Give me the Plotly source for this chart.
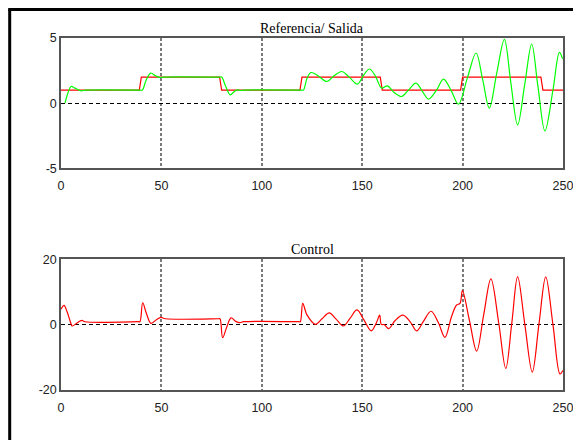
import plotly.graph_objects as go

# ---- data ----
# Reference (step) signal
t_ref = [0, 39, 40, 79, 80, 119, 120, 159, 160, 199, 200, 239, 240, 250]
r_ref = [1, 1, 2, 2, 1, 1, 2, 2, 1, 1, 2, 2, 1, 1]

# Output signal (key points)
t_out = [2, 3.5, 5, 7, 9, 10.3, 12, 39.5, 40.5, 42.5, 44.7, 47, 49.3, 51, 79, 80,
         82, 84.3, 86, 87.5, 89.5, 91, 119.7, 120.7, 122.5, 124.5, 128, 132.3, 136,
         139.8, 143.5, 147.6, 150.5, 153.6, 156.5, 159.7, 162.5, 166, 169.6, 173,
         176.8, 180, 183, 187, 190.5, 194.5, 197.9, 202.5, 206.7, 210, 213.3, 217,
         220.8, 224, 227.4, 231, 234.4, 237.5, 241, 245, 248.2, 249.8]
y_out = [0, 0.8, 1.28, 1.15, 1.0, 0.95, 1.0, 1.0, 1.0, 1.8, 2.31, 2.1, 1.97, 2.0, 2.0, 2.0,
         1.3, 0.64, 0.85, 1.02, 0.97, 1.0, 1.0, 1.0, 1.9, 2.35, 2.1, 1.66, 2.1,
         2.43, 2.0, 1.46, 2.1, 2.62, 2.1, 1.15, 1.33, 0.8, 0.51, 1.0,
         1.54, 0.9, 0.31, 1.0, 1.85, 0.9, -0.08, 2.0, 3.85, 1.8, -0.38, 2.3,
         4.9, 1.6, -1.67, 1.5, 4.54, 1.3, -2.13, 1.0, 3.9, 3.4]

# Control signal (key points)
t_u = [0, 1.5, 3, 4.5, 5.6, 7.5, 9.5, 10.5, 12, 38.5, 39.3, 40.7, 42.5, 44.8, 47.5,
       49.8, 52, 78.5, 79.2, 80.5, 82.5, 84.7, 87, 89.1, 91, 118.5, 119.2, 120.4,
       122.5, 126.7, 130, 133.6, 137, 140.6, 144, 147.4, 151, 154.5, 157, 158.7,
       159.5, 161, 163.2, 166.3, 170.3, 174, 177.1, 180.5, 184.3, 188, 191.2, 194.5,
       197, 198.7, 199.9, 203.5, 207, 210.5, 214.1, 218, 221.5, 224.5, 227.4, 231,
       234.7, 238, 241.4, 245, 248.5, 250]
u = [4.7, 5.9, 4.0, 1.2, -0.4, 0.3, 1.1, 1.3, 0.9, 0.9, 0.9, 6.7, 3.5, 0.4, 1.5,
     2.2, 1.8, 1.8, 1.8, -4.0, -0.8, 2.1, 1.0, 0.6, 0.9, 0.9, 0.9, 6.5,
     3.0, 0.1, 1.8, 3.6, 1.7, -0.4, 2.0, 4.5, 1.3, -1.9, 0.5, 2.9,
     0.1, 0.0, -1.2, 1.2, 2.9, 0.8, -1.9, 1.0, 4.1, 0.5, -3.9, 2.5,
     6.0, 6.5, 10.4, 1.0, -8.1, 3.0, 14.0, 0.5, -13.4, 0.5, 14.7, 0.0,
     -14.5, 0.0, 14.6, 0.0, -15.1, -14.0]

x_ticks = [0, 50, 100, 150, 200, 250]
x_labels = ["0", "50", "100", "150", "200", "250"]
y1_ticks = [-5, 0, 5]
y1_labels = ["-5", "0", "5"]
y2_ticks = [-20, 0, 20]
y2_labels = ["-20", "0", "20"]
title1 = "Referencia/ Salida"
title2 = "Control"

# ---- figure ----
fig = go.Figure()
fig.add_trace(go.Scatter(x=t_ref, y=r_ref, mode="lines", line=dict(color="#ff0000", width=1.2),
                         xaxis="x", yaxis="y", showlegend=False, hoverinfo="skip"))
fig.add_trace(go.Scatter(x=t_out, y=y_out, mode="lines", line=dict(color="#00ff00", width=1.2, shape="spline", smoothing=1),
                         xaxis="x", yaxis="y", showlegend=False, hoverinfo="skip"))
fig.add_trace(go.Scatter(x=t_u, y=u, mode="lines", line=dict(color="#ff0000", width=1.2, shape="spline", smoothing=1),
                         xaxis="x2", yaxis="y2", showlegend=False, hoverinfo="skip"))

tickfont = dict(family="Liberation Sans", size=12.5, color="#222222")
xcommon = dict(range=[0, 250], tickvals=x_ticks, ticktext=x_labels, showgrid=True, gridcolor="#7a7a7a",
               griddash="3px,2px", gridwidth=1.6, showline=True, linecolor="#555555",
               linewidth=1.5, mirror=True, ticks="", zeroline=False, tickfont=tickfont,
               ticklabelstandoff=5, ticklabeloverflow="allow", automargin=False, fixedrange=True)
ycommon = dict(showgrid=True, gridcolor="#000000", griddash="4px,3px", gridwidth=1,
               showline=True, linecolor="#555555", linewidth=1.5, mirror=True,
               ticks="", zeroline=False, tickfont=tickfont, ticklabeloverflow="allow",
               automargin=False, fixedrange=True)

fig.update_layout(
    width=565, height=432, autosize=False,
    margin=dict(l=53, r=10, t=30, b=50, autoexpand=False),
    paper_bgcolor="white", plot_bgcolor="white",
    xaxis=dict(domain=[0, 1], anchor="y", **xcommon),
    yaxis=dict(domain=[0.6298, 1], anchor="x", range=[-5, 5], tickvals=y1_ticks, ticktext=y1_labels, **ycommon),
    xaxis2=dict(domain=[0, 1], anchor="y2", **xcommon),
    yaxis2=dict(domain=[0, 0.3713], anchor="x2", range=[-20, 20], tickvals=y2_ticks, ticktext=y2_labels, **ycommon),
    annotations=[
        dict(text=title1, xref="paper", yref="paper", x=0.5, y=1.0, xanchor="center",
             yanchor="bottom", showarrow=False, font=dict(family="Liberation Serif", size=14, color="#000")),
        dict(text=title2, xref="paper", yref="paper", x=0.5, y=0.3713, xanchor="center",
             yanchor="bottom", showarrow=False, font=dict(family="Liberation Serif", size=14, color="#000")),
    ],
    shapes=[
        dict(type="line", xref="paper", yref="paper", x0=-0.1022, x1=-0.1022, y0=-0.25, y1=1.081,
             line=dict(color="black", width=3)),
        dict(type="line", xref="paper", yref="paper", x0=-0.1052, x1=1.1, y0=1.081, y1=1.081,
             line=dict(color="black", width=3)),
    ],
)

fig.write_html("out.html")
